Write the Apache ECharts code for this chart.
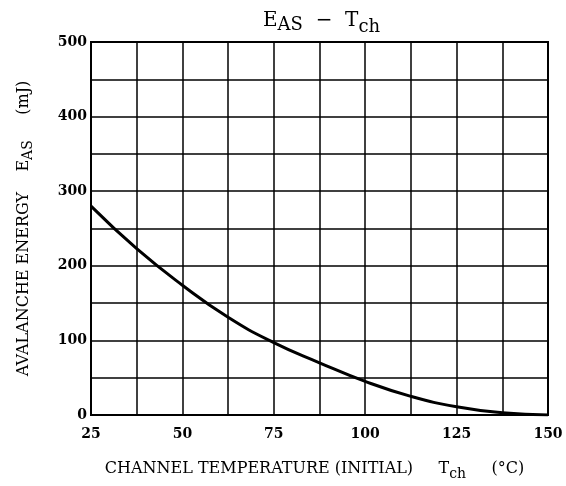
<!DOCTYPE html>
<html>
<head>
<meta charset="utf-8">
<script src="https://cdn.jsdelivr.net/npm/echarts@6/dist/echarts.min.js"></script>
<style>html,body{margin:0;padding:0;background:#fff;}#c{width:566px;height:486px;}</style>
</head>
<body>
<div id="c"></div>
<script>
const temperatures = [25, 37.5, 50, 62.5, 75, 87.5, 100, 112.5, 125, 137.5, 150];
const energies = [280, 223, 174, 131, 97, 70, 45, 25, 11, 3, 0];
const xTickLabels = [25, 50, 75, 100, 125, 150];
const yTickLabels = [0, 100, 200, 300, 400, 500];

const FONT = 'DejaVu Serif';
const chart = echarts.init(document.getElementById('c'));
chart.setOption({
  backgroundColor: '#fff',
  animation: false,
  title: {
    left: 258, top: 1,
    text: '{a|E}{b|AS}{a|  \u2212  T}{c|ch}',
    textStyle: {
      fontWeight: 'normal',
      rich: {
        a: { fontFamily: FONT, fontSize: 20, fontWeight: 'normal', color: '#000' },
        b: { fontFamily: FONT, fontSize: 18, fontWeight: 'normal', color: '#000', padding: [8, 0, 0, 0] },
        c: { fontFamily: FONT, fontSize: 18, fontWeight: 'normal', color: '#000', padding: [12, 0, 0, 0] }
      }
    }
  },
  grid: { left: 91, right: 18, top: 42, bottom: 71, show: true, borderColor: '#000', borderWidth: 2 },
  xAxis: {
    type: 'value', min: 25, max: 150, interval: 12.5,
    axisLine: { show: true, lineStyle: { color: '#000', width: 2 } },
    axisTick: { show: false },
    splitLine: { show: true, lineStyle: { color: '#000', width: 1.5 } },
    axisLabel: {
      margin: 12, color: '#000', fontFamily: FONT, fontSize: 14, fontWeight: 'bold',
      formatter: v => xTickLabels.includes(v) ? String(v) : ''
    },
    name: '{t|CHANNEL TEMPERATURE (INITIAL)     T}{s|ch}{t|     (\u00b0C)}',
    nameLocation: 'middle', nameGap: 42,
    nameTextStyle: {
      padding: [0, 10, 0, 0],
      rich: {
        t: { fontFamily: FONT, fontSize: 16, color: '#000' },
        s: { fontFamily: FONT, fontSize: 14, color: '#000', padding: [10, 0, 0, 0] }
      }
    }
  },
  yAxis: {
    type: 'value', min: 0, max: 500, interval: 50,
    axisLine: { show: true, lineStyle: { color: '#000', width: 2 } },
    axisTick: { show: false },
    splitLine: { show: true, lineStyle: { color: '#000', width: 1.5 } },
    axisLabel: {
      margin: 4, color: '#000', fontFamily: FONT, fontSize: 14, fontWeight: 'bold',
      formatter: v => yTickLabels.includes(v) ? String(v) : ''
    },
    name: '{t|AVALANCHE ENERGY    E}{s|AS}{t|     (mJ)}',
    nameLocation: 'middle', nameRotate: 90, nameGap: 56,
    nameTextStyle: {
      rich: {
        t: { fontFamily: FONT, fontSize: 16, color: '#000' },
        s: { fontFamily: FONT, fontSize: 14, color: '#000', padding: [8, 0, 0, 0] }
      }
    }
  },
  series: [{
    type: 'line', smooth: true, showSymbol: false,
    data: temperatures.map((t, i) => [t, energies[i]]),
    lineStyle: { color: '#000', width: 3 }
  }]
});
</script>
</body>
</html>
